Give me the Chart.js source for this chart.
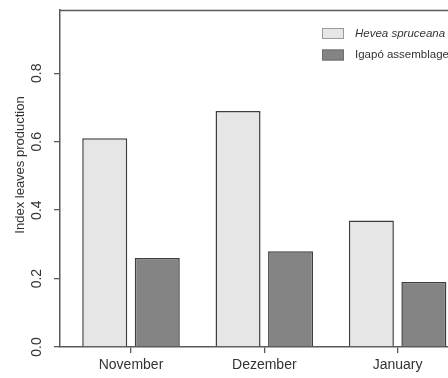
<!DOCTYPE html>
<html>
<head>
<meta charset="utf-8">
<script src="https://cdn.jsdelivr.net/npm/chart.js@4/dist/chart.umd.min.js"></script>
<style>
  html, body { margin: 0; padding: 0; background: #fff; overflow: hidden; }
  #wrap { width: 448px; height: 378px; overflow: hidden; position: relative; }
  canvas { display: block; }
</style>
</head>
<body>
<div id="wrap"><canvas id="c" width="520" height="378"></canvas></div>
<script>
// Leaf production index per month
const months = ['November', 'Dezember', 'January'];
const heveaSpruceana = [0.61, 0.69, 0.37];
const igapoAssemblage = [0.26, 0.28, 0.19];
const seriesNames = ['Hevea spruceana', 'Igapó assemblage'];
const seriesFontStyle = ['italic', 'normal'];
const yTickValues = [0, 0.2, 0.4, 0.6, 0.8];
const yTitle = 'Index leaves production';

const FONT = '"Liberation Sans", Arial, Helvetica, sans-serif';
const INK = '#333';
const FRAME = '#5a5a5a';

function toPoints(values) {
  return values.map((v, i) => ({ x: i + 1, y: v }));
}

// frame line along the top of the plot region
const framePlugin = {
  id: 'frameTop',
  afterDraw(chart) {
    const { ctx, chartArea: a } = chart;
    ctx.save();
    ctx.strokeStyle = FRAME;
    ctx.lineWidth = 1.5;
    ctx.beginPath();
    ctx.moveTo(a.left, a.top + 0.5);
    ctx.lineTo(a.right, a.top + 0.5);
    ctx.stroke();
    ctx.restore();
  }
};

// y axis title, rotated
const yTitlePlugin = {
  id: 'yTitle',
  afterDraw(chart) {
    const ctx = chart.ctx;
    ctx.save();
    ctx.translate(20, 165);
    ctx.rotate(-Math.PI / 2);
    ctx.font = '13px ' + FONT;
    ctx.fillStyle = INK;
    ctx.textAlign = 'center';
    ctx.textBaseline = 'middle';
    ctx.fillText(yTitle, 0, 0);
    ctx.restore();
  }
};

// legend in the upper right of the plot
const legendEdges = ['#9a9a9a', '#6e6e6e'];
const legendPlugin = {
  id: 'boxLegend',
  afterDraw(chart) {
    const ctx = chart.ctx;
    chart.data.datasets.forEach((ds, i) => {
      const cy = 33.5 + i * 21.5;
      ctx.save();
      ctx.fillStyle = ds.backgroundColor;
      ctx.fillRect(322, cy - 5.5, 22, 11);
      ctx.strokeStyle = legendEdges[i];
      ctx.lineWidth = 1;
      ctx.strokeRect(322.5, cy - 5, 21, 10);
      ctx.font = seriesFontStyle[i] + ' 11.5px ' + FONT;
      ctx.fillStyle = INK;
      ctx.textAlign = 'left';
      ctx.textBaseline = 'middle';
      ctx.fillText(ds.label, 355, cy);
      ctx.restore();
    });
  }
};

const barStyle = {
  borderColor: '#3e3e3e',
  borderWidth: 1.5,
  categoryPercentage: 0.788,
  barPercentage: 0.857
};

function noEdgePadding(scale) {
  scale.paddingTop = 0;
  scale.paddingBottom = 0;
  scale.paddingLeft = 0;
  scale.paddingRight = 0;
}

new Chart(document.getElementById('c'), {
  type: 'bar',
  data: {
    datasets: [
      Object.assign({ label: seriesNames[0], data: toPoints(heveaSpruceana), backgroundColor: '#e6e6e6' }, barStyle),
      Object.assign({ label: seriesNames[1], data: toPoints(igapoAssemblage), backgroundColor: '#848484' }, barStyle)
    ]
  },
  options: {
    responsive: false,
    animation: false,
    devicePixelRatio: 1,
    layout: { padding: { top: 10, left: 0, right: 0, bottom: 0 } },
    plugins: {
      legend: { display: false },
      tooltip: { enabled: false }
    },
    scales: {
      x: {
        type: 'linear',
        min: 0.4674,
        max: 3.918,
        offset: false,
        afterBuildTicks(scale) {
          scale.ticks = months.map((m, i) => ({ value: i + 1 }));
        },
        afterFit(scale) { scale.height = 31; noEdgePadding(scale); },
        grid: { offset: false, drawOnChartArea: false, drawTicks: true, tickLength: 6, color: FRAME, lineWidth: 1.3 },
        border: { display: true, color: FRAME, width: 1.5 },
        ticks: {
          padding: 4,
          color: INK,
          font: { family: FONT, size: 14 },
          maxRotation: 0,
          autoSkip: false,
          callback: (v) => months[Math.round(v) - 1]
        }
      },
      y: {
        min: 0,
        max: 0.985,
        afterBuildTicks(scale) {
          scale.ticks = yTickValues.map(v => ({ value: v }));
        },
        afterFit(scale) { scale.width = 60; noEdgePadding(scale); },
        grid: { drawOnChartArea: false, drawTicks: true, tickLength: 6, color: FRAME, lineWidth: 1.3 },
        border: { display: true, color: FRAME, width: 1.5 },
        ticks: {
          padding: 7,
          color: INK,
          font: { family: FONT, size: 14 },
          minRotation: 90,
          maxRotation: 90,
          crossAlign: 'center',
          callback: (v) => Number(v).toFixed(1)
        }
      }
    }
  },
  plugins: [framePlugin, yTitlePlugin, legendPlugin]
});
</script>
</body>
</html>
